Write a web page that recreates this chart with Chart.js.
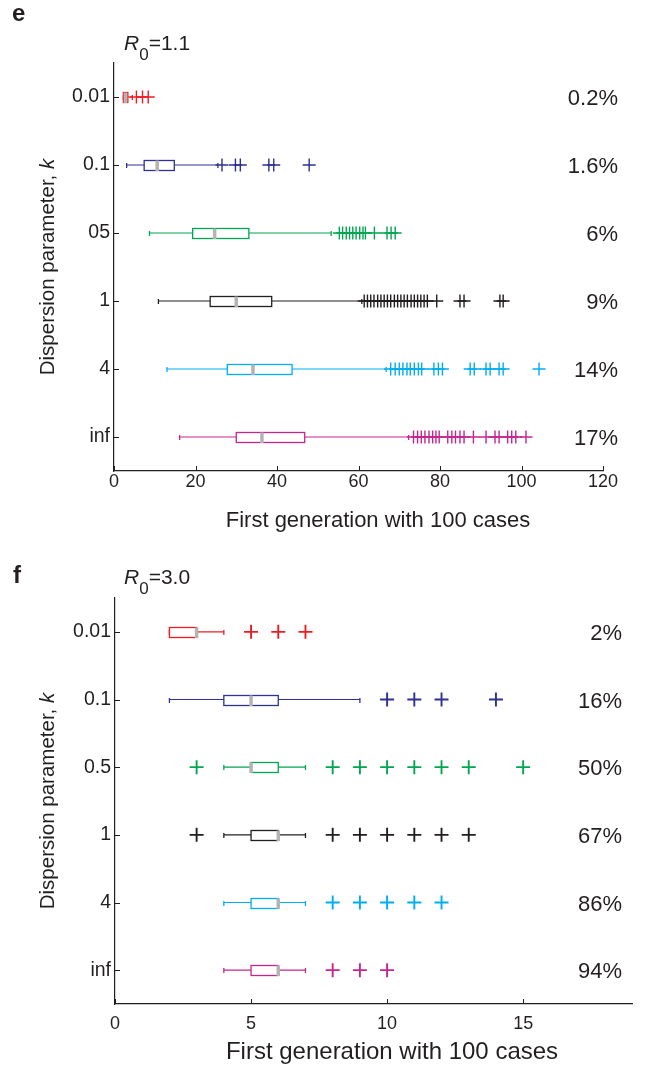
<!DOCTYPE html>
<html>
<head>
<meta charset="utf-8">
<script src="https://cdn.jsdelivr.net/npm/chart.js@4.4.1/dist/chart.umd.min.js"></script>
<style>
  body { margin: 0; background: #fff; }
  #wrap { position: relative; width: 654px; height: 1065px; font-family: "Liberation Sans", Arial, sans-serif; color: #231f20; }
  canvas { position: absolute; left: 0; }
  .lbl { position: absolute; line-height: 1; white-space: nowrap; }
  .panel { font-weight: bold; font-size: 24px; }
  .r0 { font-size: 21px; }
  .r0 sub { font-size: 17px; vertical-align: -10px; line-height: 0; }
  .ytitle { font-size: 20.5px; transform: translate(-50%, -50%) rotate(-90deg); }
  .xtitle { transform: translateX(-50%); }
</style>
</head>
<body>
<div id="wrap">
  <canvas id="chartE" width="654" height="540" style="top:0;width:654px;height:540px"></canvas>
  <canvas id="chartF" width="654" height="525" style="top:540px;width:654px;height:525px"></canvas>

  <div class="lbl panel" style="left:12px;top:1px">e</div>
  <div class="lbl r0" style="left:124px;top:32px"><i>R</i><sub>0</sub>=1.1</div>
  <div class="lbl ytitle" style="left:47px;top:267px">Dispersion parameter, <i>k</i></div>
  <div class="lbl xtitle" style="left:378px;top:509px;font-size:22px">First generation with 100 cases</div>

  <div class="lbl panel" style="left:13px;top:563px">f</div>
  <div class="lbl r0" style="left:124px;top:566px"><i>R</i><sub>0</sub>=3.0</div>
  <div class="lbl ytitle" style="left:47px;top:801px">Dispersion parameter, <i>k</i></div>
  <div class="lbl xtitle" style="left:392px;top:1039px;font-size:24px">First generation with 100 cases</div>
</div>
<script>
// Panel e : R0 = 1.1
const kLabelsE = ['0.01', '0.1', '05', '1', '4', 'inf'];
const xTicksE = [0, 20, 40, 60, 80, 100, 120];
const loE  = [2.3, 3.1, 8.7, 10.9, 13.0, 16.1];
const q1E  = [2.3, 7.4, 19.3, 23.6, 27.8, 30.0];
const medE = [2.8, 10.6, 24.7, 30.0, 34.1, 36.3];
const q3E  = [3.4, 14.8, 33.1, 38.7, 43.7, 46.8];
const hiE  = [4.5, 25.5, 53.3, 60.8, 66.8, 72.3];
const outE = [
  [5.5, 7.0, 8.4],
  [26.5, 29.8, 31.0, 38.0, 39.2, 47.9],
  [55.3, 56.1, 57.0, 57.8, 58.6, 59.4, 60.3, 61.1, 61.7, 63.9, 67.0, 68.0, 69.0],
  [61.4, 62.2, 63.0, 63.8, 64.7, 65.5, 66.3, 67.1, 67.9, 68.8, 69.6, 70.4, 71.2, 72.0, 72.9, 73.7, 74.5, 75.3, 76.1, 76.9, 79.2, 84.9, 85.9, 94.7, 95.5],
  [67.9, 69.0, 70.0, 70.9, 71.9, 72.7, 73.7, 74.7, 75.5, 78.5, 79.6, 80.6, 87.4, 88.4, 91.3, 92.3, 94.5, 95.5, 104.3],
  [73.5, 74.5, 75.4, 76.3, 77.3, 78.2, 79.0, 79.8, 81.9, 82.9, 83.8, 84.9, 85.9, 88.2, 91.3, 93.5, 94.5, 96.6, 97.6, 98.6, 101.1]
];
const pctE = ['0.2%', '1.6%', '6%', '9%', '14%', '17%'];

// Panel f : R0 = 3.0
const kLabelsF = ['0.01', '0.1', '0.5', '1', '4', 'inf'];
const xTicksF = [0, 5, 10, 15];
const loF  = [2, 2, 4, 4, 4, 4];
const q1F  = [2, 4, 5, 5, 5, 5];
const medF = [3, 5, 5, 6, 6, 6];
const q3F  = [3, 6, 6, 6, 6, 6];
const hiF  = [4, 9, 7, 7, 7, 7];
const outF = [
  [5, 6, 7],
  [10, 11, 12, 14],
  [3, 8, 9, 10, 11, 12, 13, 15],
  [3, 8, 9, 10, 11, 12, 13],
  [8, 9, 10, 11, 12],
  [8, 9, 10]
];
const pctF = ['2%', '16%', '50%', '67%', '86%', '94%'];

const colors = ['#ed1c24', '#2e3192', '#00a651', '#231f20', '#00aeef', '#c7258e'];
const axisColor = '#231f20';
const medColor = '#b4b4b4';
const family = '"Liberation Sans", Arial, sans-serif';

function makePanel(id, p) {
    const datasets = [];
    p.labels.forEach((lab, i) => {
        // whisker line
        datasets.push({
            data: [{x: p.lo[i], y: i + 1}, {x: p.hi[i], y: i + 1}],
            showLine: true,
            borderColor: colors[i],
            borderWidth: 1.2,
            pointRadius: 0
        });
        // outliers
        datasets.push({
            data: p.out[i].map(v => ({x: v, y: i + 1})),
            pointStyle: 'cross',
            pointRadius: p.plus,
            pointBorderWidth: p.plusWidth,
            pointBorderColor: colors[i],
            pointBackgroundColor: colors[i]
        });
    });

    // boxes, medians, whisker caps, inner ticks, percentages
    const boxPlugin = {
        id: 'boxes' + id,
        afterDatasetsDraw(chart) {
            const {ctx, chartArea} = chart;
            const x = chart.scales.x, y = chart.scales.y;
            ctx.save();
            ctx.strokeStyle = axisColor;
            ctx.lineWidth = 1;
            x.ticks.forEach(t => {
                const px = Math.round(x.getPixelForValue(t.value)) + 0.5;
                ctx.beginPath();
                ctx.moveTo(px, chartArea.bottom);
                ctx.lineTo(px, chartArea.bottom - 5);
                ctx.stroke();
            });
            y.ticks.forEach(t => {
                const py = Math.round(y.getPixelForValue(t.value)) + 0.5;
                ctx.beginPath();
                ctx.moveTo(chartArea.left, py);
                ctx.lineTo(chartArea.left + 5, py);
                ctx.stroke();
            });
            p.labels.forEach((lab, i) => {
                const yc = Math.round(y.getPixelForValue(i + 1)) + 0.5;
                const x1 = x.getPixelForValue(p.q1[i]);
                const x3 = x.getPixelForValue(p.q3[i]);
                ctx.fillStyle = '#fff';
                ctx.fillRect(x1, yc - 5, x3 - x1, 10);
                ctx.strokeStyle = colors[i];
                ctx.lineWidth = 1.3;
                ctx.strokeRect(x1, yc - 5, x3 - x1, 10);
                [p.lo[i], p.hi[i]].forEach(v => {
                    const xv = x.getPixelForValue(v);
                    ctx.beginPath();
                    ctx.moveTo(xv, yc - 2.5);
                    ctx.lineTo(xv, yc + 2.5);
                    ctx.stroke();
                });
                const xm = x.getPixelForValue(p.med[i]);
                ctx.fillStyle = medColor;
                ctx.fillRect(xm - 1.75, yc - 5, 3.5, 10.5);
                ctx.fillStyle = axisColor;
                ctx.font = '22px ' + family;
                ctx.textAlign = 'right';
                ctx.textBaseline = 'middle';
                ctx.fillText(p.pct[i], p.pctRight, yc + 1);
            });
            ctx.restore();
        }
    };

    return new Chart(document.getElementById(id), {
        type: 'scatter',
        data: { datasets: datasets },
        plugins: [boxPlugin],
        options: {
            responsive: false,
            animation: false,
            events: [],
            layout: { padding: p.pad },
            plugins: { legend: { display: false }, tooltip: { enabled: false } },
            scales: {
                x: {
                    type: 'linear',
                    min: p.xmin,
                    max: p.xmax,
                    afterBuildTicks: s => { s.ticks = p.xticks.map(v => ({value: v})); },
                    afterFit: s => { s.height = p.xh; },
                    grid: { display: false, drawTicks: false, tickLength: 0 },
                    border: { display: true, color: axisColor, width: 1.2 },
                    ticks: { padding: p.xpad, color: axisColor, font: { family: family, size: 18 }, maxRotation: 0, autoSkip: false }
                },
                y: {
                    type: 'linear',
                    min: 0.5,
                    max: 6.5,
                    reverse: true,
                    afterBuildTicks: s => { s.ticks = p.labels.map((l, i) => ({value: i + 1})); },
                    afterFit: s => { s.width = p.yw; },
                    grid: { display: false, drawTicks: false, tickLength: 0 },
                    border: { display: true, color: axisColor, width: 1.2 },
                    ticks: { padding: 4, color: axisColor, font: { family: family, size: 19.5 }, autoSkip: false,
                             callback: v => p.labels[Math.round(v) - 1] }
                }
            }
        }
    });
}

makePanel('chartE', {
    labels: kLabelsE, lo: loE, q1: q1E, med: medE, q3: q3E, hi: hiE, out: outE, pct: pctE,
    xticks: xTicksE, xmin: 0, xmax: 120,
    pad: { left: 0, top: 63, right: 51, bottom: 0 }, xh: 69, yw: 114, xpad: 0,
    plus: 6.5, plusWidth: 1.4, pctRight: 618
});

makePanel('chartF', {
    labels: kLabelsF, lo: loF, q1: q1F, med: medF, q3: q3F, hi: hiF, out: outF, pct: pctF,
    xticks: xTicksF, xmin: 0, xmax: 19,
    pad: { left: 0, top: 58, right: 22, bottom: 0 }, xh: 61, yw: 115, xpad: 9,
    plus: 7, plusWidth: 1.9, pctRight: 622
});
</script>
</body>
</html>
